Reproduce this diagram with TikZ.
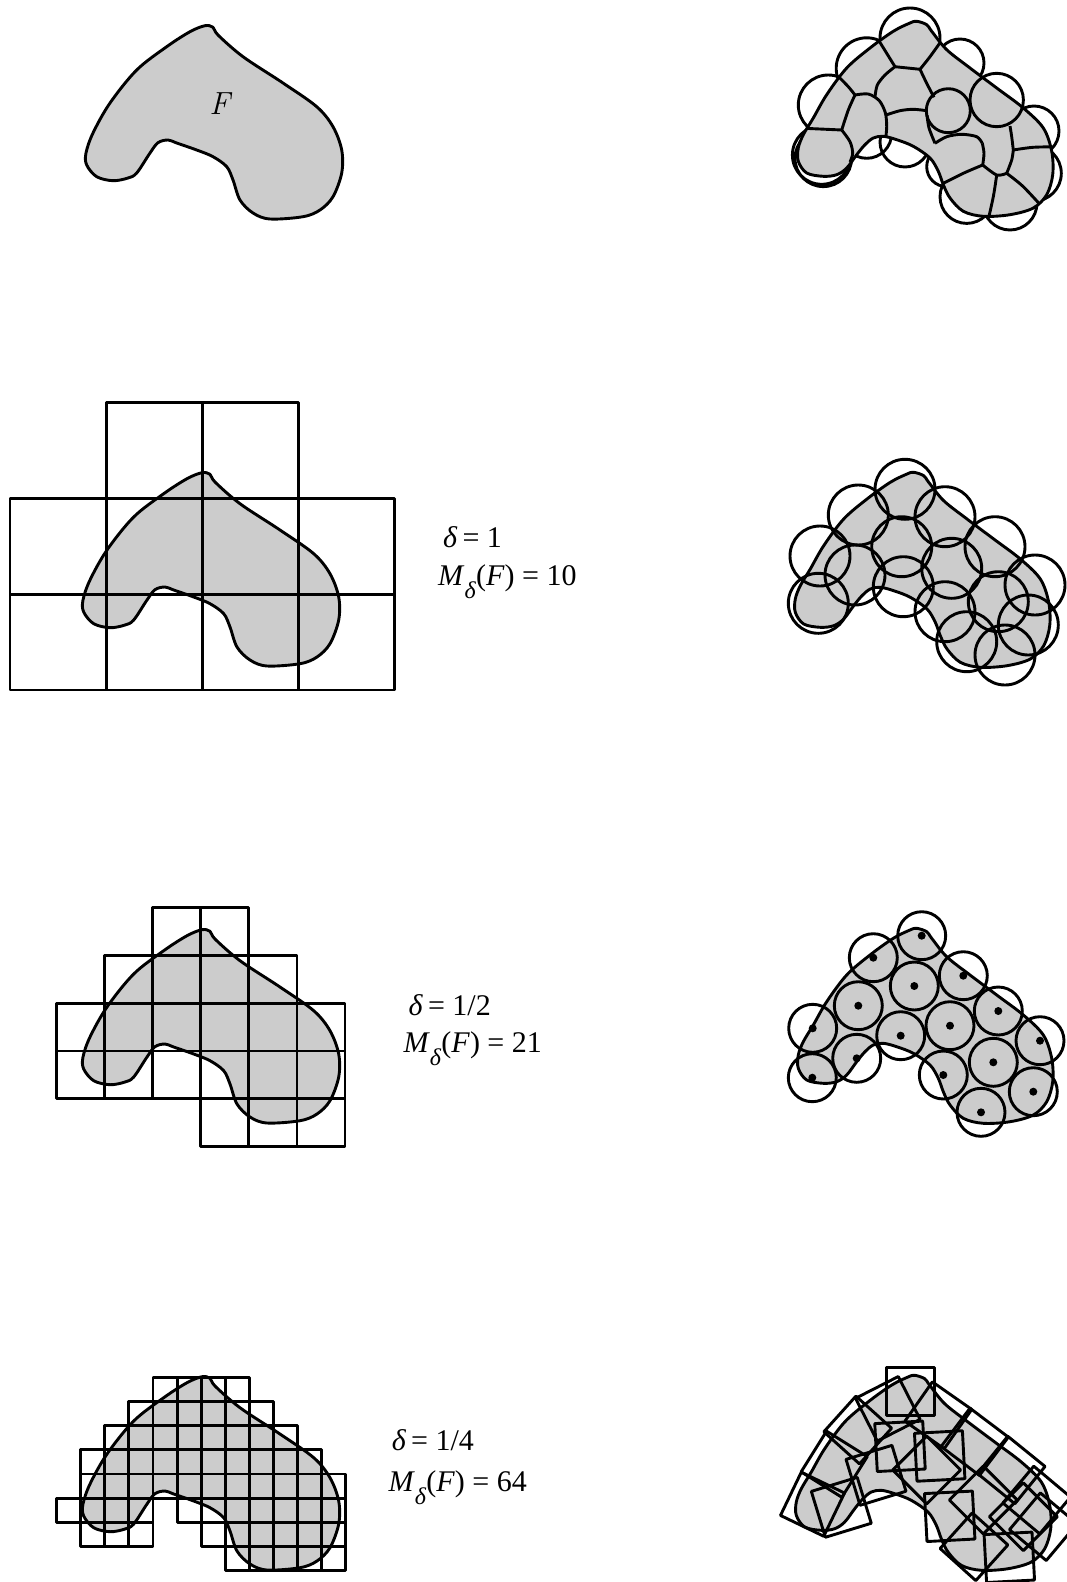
\documentclass[tikz,border=0pt]{standalone}
\usepackage{fontspec}
\setmainfont{Liberation Serif}
\newfontfamily\lmfont{Latin Modern Roman}
\begin{document}
\begin{tikzpicture}[x=1pt,y=-1pt,line join=round]
\tikzset{
  blobfill/.style={fill=black!20},
  lw/.style={line width=2.9pt},
  cellbox/.style={draw=black,line width=2.9pt},
  lbl/.style={font=\fontsize{30}{34}\selectfont,anchor=base west,inner sep=0pt},
}
\newcommand\Msub[1]{\textit{M}\raisebox{-13pt}{\fontsize{24}{26}\selectfont\textit{δ}}(\textit{F}) = #1}
\newcommand\gridcells[5]{%
  \foreach \r/\a/\b in {#5}{\foreach \c in {\a,...,\b}{%
    \draw[cellbox] ({#1+(\c-1)*#3},{#2+(\r-1)*#4}) rectangle ++(#3,#4);}}}
\def\Fpath{plot[smooth cycle,tension=0.55] coordinates {(205,25.7) (213,27.3) (218,35) (243,56.7) (283,83) (316.7,106.7) (333,126.7) (341.7,150) (341.7,173) (333,196.7) (320,210) (303,216.7) (270,219) (253,213) (240,200) (233,180) (226.7,166.7) (213,156.7) (196.7,150) (176.7,143) (168,140) (158,142.7) (150,153) (136.7,173) (128,178) (113,180.7) (96.7,176.7) (86.7,165) (86,153) (93,133) (110,103) (136.7,70) (166.7,46.7) (190,31.7)}}
\def\Gpath{plot[smooth cycle,tension=0.55] coordinates {(916.7,928.3) (926.7,931.7) (931.7,938.3) (946.7,956.7) (970,975) (996.7,995) (1023.3,1015) (1043.3,1035) (1051.7,1058.3) (1052.7,1081.7) (1046.7,1101.7) (1033.3,1115) (1010,1121.7) (983.3,1123.3) (963.3,1118.3) (950,1105) (943.3,1091.7) (938.3,1078.3) (930,1065) (913.3,1053.3) (896.7,1046.7) (883.3,1043.3) (873.3,1045) (865,1051.7) (856.7,1061.7) (846.7,1075) (836.7,1081.7) (823.3,1083.3) (806.7,1080) (798.3,1068.3) (798.3,1055) (803.3,1041.7) (813.3,1025) (826.7,1001.7) (846.7,975) (870,955) (893.3,938.3) (910,930)}}
\useasboundingbox (0,0) rectangle (1066,1582);
\fill[white] (0,0) rectangle (1066,1582);

% ---------- left column ----------
\path[blobfill,draw,lw] \Fpath;
\node[font=\fontsize{32}{36}\selectfont,inner sep=0pt] (Flabel) at (219.5,104) {\lmfont\itshape F};

\begin{scope}[shift={(-3,447)}]\path[blobfill,draw,lw] \Fpath;\end{scope}
\gridcells{10}{402.3}{96.08}{95.9}{1/2/3,2/1/4,3/1/4}
\node[lbl] (d1) at (443,547) {\textit{δ}\,= 1};
\node[lbl] (m1) at (438,585) {\Msub{10}};

\begin{scope}[shift={(-3,904)}]\path[blobfill,draw,lw] \Fpath;\end{scope}
\gridcells{56.7}{907.3}{48.05}{47.9}{1/3/4,2/2/5,3/1/6,4/1/6,5/4/6}
\node[lbl] (d2) at (408.5,1015) {\textit{δ}\,= 1/2};
\node[lbl] (m2) at (403.4,1052) {\Msub{21}};

\begin{scope}[shift={(-3,1351)}]\path[blobfill,draw,lw] \Fpath;\end{scope}
\gridcells{56.7}{1377.3}{24.08}{24.17}{1/5/8,2/4/9,3/3/10,4/2/11,5/2/12,6/1/4,6/6/12,7/2/4,7/7/12,8/8/12}
\node[lbl] (d3) at (391.7,1450) {\textit{δ}\,= 1/4};
\node[lbl] (m3) at (388.3,1491.7) {\Msub{64}};

% ---------- right column, row 1: arbitrary cover ----------
\path[blobfill,shift={(0,-907)}] \Gpath;
\begin{scope}[even odd rule]
  \clip[shift={(0,-907)}] (700,850) rectangle (1100,1200) \Gpath;
  \foreach \x/\y/\r in {821.7/155/29.3,823.3/158.3/28.3,828.3/105/30,866.7/68.3/30.5,910/38/30,960/63/24,1034/131/25,1033.3/173.3/28,1010/203/27,966.7/196.7/26.7,946.7/166.7/20,905/142/25,866.7/133.3/25}
    \draw[lw] (\x,\y) circle[radius=\r pt];
\end{scope}
\begin{scope}
  \clip[shift={(0,-907)}] \Gpath;
  \draw[lw] plot[smooth] coordinates {(836,74) (848.3,86.7) (855,95)};
  \draw[lw] plot[smooth] coordinates {(855,95) (848.3,110) (841.7,130)};
  \draw[lw] plot[smooth] coordinates {(841.7,130) (804,128.3) (795,128)};
  \draw[lw] plot[smooth] coordinates {(841.7,130) (850,141.7) (852.7,153.3) (850,162)};
  \draw[lw] plot[smooth] coordinates {(855,95) (868.3,94) (879.3,100.7) (885.3,112.7) (886.7,126.7) (885.3,142)};
  \draw[lw] plot[smooth] coordinates {(876,36) (886.7,53.3) (895,66.7)};
  \draw[lw] (895,66.7) -- (920,69.3);
  \draw[lw] plot[smooth] coordinates {(920,69.3) (930,56.7) (942,40)};
  \draw[lw] plot[smooth] coordinates {(895,66.7) (885,75) (877.3,85) (875,96.7)};
  \draw[lw] plot[smooth] coordinates {(886,115) (900,110.7) (913.3,109.3) (926.7,110.7)};
  \draw[lw] plot[smooth] coordinates {(920,69.3) (926.7,83.3) (934,97.3)};
  \draw[lw] plot[smooth] coordinates {(927,115) (929,128) (935,143.3)};
  \draw[lw] plot[smooth] coordinates {(935,143.3) (946.7,136.7) (961.7,134.3) (976.7,136.7) (982.3,143.3)};
  \draw[lw] plot[smooth] coordinates {(982.3,143.3) (984,153.3) (982.7,165)};
  \draw[lw] plot[smooth] coordinates {(982.7,165) (963.3,173.3) (940,185)};
  \draw[lw] plot[smooth] coordinates {(982.7,165) (996.7,175) (1006.7,173.3)};
  \draw[lw] plot[smooth] coordinates {(996.7,175) (993.3,196.7) (987,225)};
  \draw[lw] plot[smooth] coordinates {(1006.7,173.3) (1011.7,160) (1013.3,150)};
  \draw[lw] plot[smooth] coordinates {(1013.3,150) (1011.7,136.7) (1010,126)};
  \draw[lw] plot[smooth] coordinates {(1013.3,150) (1033.3,147.3) (1060,146.7)};
  \draw[lw] plot[smooth] coordinates {(1006.7,173.3) (1023.3,186.7) (1045,210)};
\end{scope}
\draw[lw] (996.7,100) circle[radius=26.7pt];
\draw[lw] (948.3,110.7) circle[radius=22pt];
\path[draw,lw,shift={(0,-907)}] \Gpath;

% ---------- row 2: balls of radius delta ----------
\path[blobfill,draw,lw,shift={(-3,-456)}] \Gpath;
\foreach \x/\y in {905/489.3,858.3/515,820/556,818.3/603.3,855/575,901.7/546.7,903.3/586.7,945/516.7,951.7/568.3,945/611.7,995/546.7,998.3/601.7,1035/585,1028.3/625,966.7/641.7,1005/655}
  \draw[lw] (\x,\y) circle[radius=30pt];

% ---------- row 3: centred balls ----------
\path[blobfill,draw,lw] \Gpath;
\foreach \x/\y in {921.7/935.7,873.3/957.7,914.3/986,963.3/975.7,858.3/1005.7,998.3/1011,812.7/1028.3,900.7/1035.7,950/1025.7,1040/1040.7,856.7/1058.3,993.3/1062.3,812.3/1077.7,943.3/1075,1033.3/1091.7,981/1112.3}
  {\draw[lw] (\x,\y) circle[radius=24pt];
   \fill (\x,\y) circle[radius=4pt];}

% ---------- row 4: squares ----------
\path[blobfill,draw,lw,shift={(-2,447)}] \Gpath;
\foreach \x/\y/\a in {910.3/1391.7/0,900/1446.3/3,939.7/1456/3,949.7/1516.3/3,1009.3/1557.3/3,887.8/1408.8/27,857.7/1430/48,834.2/1464.2/58,812.5/1504.2/-25.7,841.3/1507.3/17,876/1475.3/17,938.3/1415.3/-35,1011.3/1470/-39,974.7/1441.8/-37,1036.7/1500/-40,1023.3/1516.7/-45,983.3/1500/-45,974/1546.7/-42,926.7/1470/-45,1043.3/1526.7/-40}
  \draw[lw,shift={(\x,\y)},rotate=\a] (-24,-24) -- (24,-24) -- (24,24) -- (-24,24) -- cycle;
\end{tikzpicture}
\end{document}
